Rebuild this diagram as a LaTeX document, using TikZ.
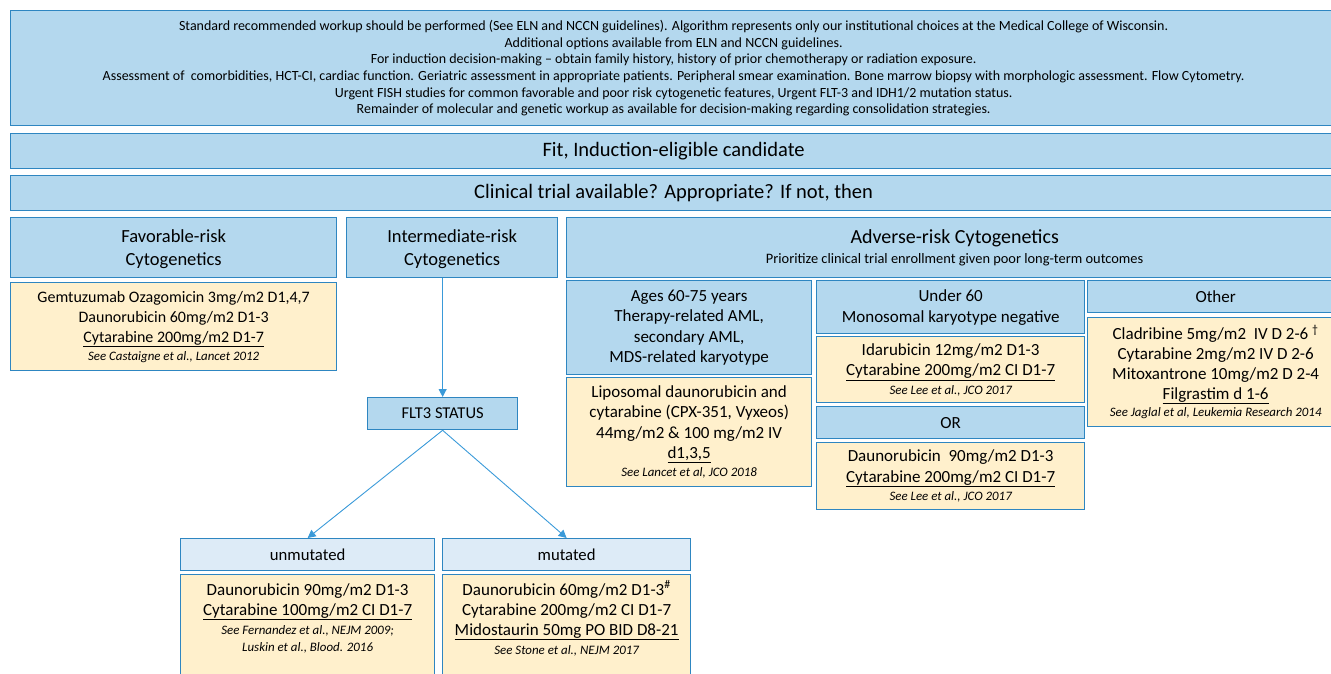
\documentclass[tikz,border=0pt]{standalone}
\usepackage{fontspec}
\setmainfont{Carlito}
\usetikzlibrary{arrows.meta}
\definecolor{bfill}{HTML}{B4D8EE}
\definecolor{bdraw}{HTML}{2E86C1}
\definecolor{ofill}{HTML}{FFF0CC}
\definecolor{lfill}{HTML}{DDEBF7}
\definecolor{arr}{HTML}{3A9AD9}
\tikzset{
 boxbase/.style={draw=bdraw, line width=1.3pt, inner sep=0pt, align=center, text=black, anchor=north west},
 bluebox/.style={boxbase, fill=bfill},
 orbox/.style={boxbase, fill=ofill},
 ltbox/.style={boxbase, fill=lfill},
 txt/.style={inner sep=0pt, align=center, text=black},
 conn/.style={draw=arr, line width=0.9pt, -{Triangle[length=8pt,width=8pt]}},
}
\newcommand\fs[2]{\fontsize{#1}{#2}\selectfont}
\newcommand\mkbox[8]{\node[#2, font=#7, minimum width=#5pt-#3pt, minimum height=#6pt-#4pt] (#1) at (#3pt,-#4pt) {#8};}
\newcommand\refl[1]{{\fs{12.9}{14}\itshape #1}}
\newcommand\refr[1]{{\fs{12.9}{14}\itshape #1}}
\begin{document}
\begin{tikzpicture}
\useasboundingbox (0,0) rectangle (1331pt,-674pt);
% header
\mkbox{top}{bluebox}{10}{10}{1336}{125}{\fs{14}{16.7}}{Standard recommended workup should be performed (See ELN and NCCN guidelines). Algorithm represents only our institutional choices at the Medical College of Wisconsin.\\
Additional options available from ELN and NCCN guidelines.\\
For induction decision-making -- obtain family history, history of prior chemotherapy or radiation exposure.\\
Assessment of\ \ comorbidities, HCT-CI, cardiac function. Geriatric assessment in appropriate patients. Peripheral smear examination. Bone marrow biopsy with morphologic assessment. Flow Cytometry.\\
Urgent FISH studies for common favorable and poor risk cytogenetic features, Urgent FLT-3 and IDH1/2 mutation status.\\
Remainder of molecular and genetic workup as available for decision-making regarding consolidation strategies.}
\mkbox{fit}{bluebox}{10}{133}{1336}{168}{\fs{20.5}{24}}{Fit, Induction-eligible candidate}
\mkbox{trial}{bluebox}{10}{175}{1336}{210}{\fs{20.5}{24}}{Clinical trial available? Appropriate? If not, then}
% favorable
\mkbox{fav}{bluebox, text depth=0pt}{10}{217}{336}{277}{\fs{18.5}{23}}{Favorable-risk\\Cytogenetics}
\mkbox{favrx}{orbox}{10}{282}{336}{370}{\fs{16}{20}}{Gemtuzumab Ozagomicin 3mg/m2 D1,4,7\\Daunorubicin 60mg/m2 D1-3\\\underline{Cytarabine 200mg/m2 D1-7}\\[-2pt]\refl{See Castaigne et al., Lancet 2012}}
% intermediate
\mkbox{inter}{bluebox, text depth=0pt}{346}{217}{557}{277}{\fs{18.5}{23}}{Intermediate-risk\\Cytogenetics}
\mkbox{flt}{bluebox}{367}{397}{517}{429}{\fs{16.5}{18}}{FLT3 STATUS}
\mkbox{unmut}{ltbox}{180}{538}{434}{570}{\fs{16.7}{20}}{unmutated}
\mkbox{mut}{ltbox}{442}{538}{690}{570}{\fs{16.7}{20}}{mutated}
\mkbox{unmutrx}{orbox}{180}{574}{434}{690}{\fs{16}{20}}{}
\mkbox{mutrx}{orbox}{442}{574}{690}{690}{\fs{16}{20}}{}
\node[txt, anchor=north, font=\fs{17}{20}] (unmutrxt) at ([yshift=-9pt]unmutrx.north) {Daunorubicin 90mg/m2 D1-3\\\underline{Cytarabine 100mg/m2 CI D1-7}\\[-1pt]\refl{See Fernandez et al., NEJM 2009;}\\[-3pt]\refl{Luskin et al., Blood. 2016}};
\node[txt, anchor=north, font=\fs{17}{20}] (mutrxt) at ([yshift=-9pt]mutrx.north) {Daunorubicin 60mg/m2 D1-3\smash{\textsuperscript{\#}}\\Cytarabine 200mg/m2 CI D1-7\\\underline{Midostaurin 50mg PO BID D8-21}\\[-1pt]\refl{See Stone et al., NEJM 2017}};
% adverse
\mkbox{adv}{bluebox}{566}{217}{1342}{277}{\fs{20}{20}}{Adverse-risk Cytogenetics\\{\fs{14.4}{16}Prioritize clinical trial enrollment given poor long-term outcomes}}
\mkbox{ages}{bluebox}{566}{280}{811}{374}{\fs{17}{20.5}}{Ages 60-75 years\\Therapy-related AML,\\secondary AML,\\MDS-related karyotype}
\mkbox{liprx}{orbox}{566}{377}{811}{486}{\fs{17}{20.3}}{Liposomal daunorubicin and\\cytarabine (CPX-351, Vyxeos)\\44mg/m2 \& 100 mg/m2 IV\\\underline{d1,3,5}\\[-2pt]\refr{See Lancet et al, JCO 2018}}
\mkbox{under}{bluebox}{816}{280}{1084}{333}{\fs{17}{21}}{Under 60\\Monosomal karyotype negative}
\mkbox{idarx}{orbox}{816}{336}{1084}{402}{\fs{17}{20.5}}{Idarubicin 12mg/m2 D1-3\\\underline{Cytarabine 200mg/m2 CI D1-7}\\[-2pt]\refr{See Lee et al., JCO 2017}}
\mkbox{or}{bluebox}{816}{406}{1084}{438}{\fs{17}{20}}{OR}
\mkbox{daurx}{orbox}{816}{442}{1084}{509}{\fs{17}{20.5}}{Daunorubicin\ \ 90mg/m2 D1-3\\\underline{Cytarabine 200mg/m2 CI D1-7}\\[-2pt]\refr{See Lee et al., JCO 2017}}
\mkbox{other}{bluebox}{1087}{280}{1343}{312}{\fs{17}{20}}{Other}
\mkbox{othrx}{orbox, text depth=0pt}{1087}{317}{1343}{426}{\fs{17}{19.8}}{Cladribine 5mg/m2\ \ IV D 2-6 \smash{\textsuperscript{\textdagger}}\\Cytarabine 2mg/m2 IV D 2-6\\Mitoxantrone 10mg/m2 D 2-4\\\underline{Filgrastim d 1-6}\\[-3pt]\refr{See Jaglal et al, Leukemia Research 2014}}
% connectors
\draw[conn] (inter.south -| flt.north) -- (flt.north);
\draw[conn] (flt.south) -- (unmut.north);
\draw[conn] (flt.south) -- (mut.north);
\end{tikzpicture}
\end{document}
